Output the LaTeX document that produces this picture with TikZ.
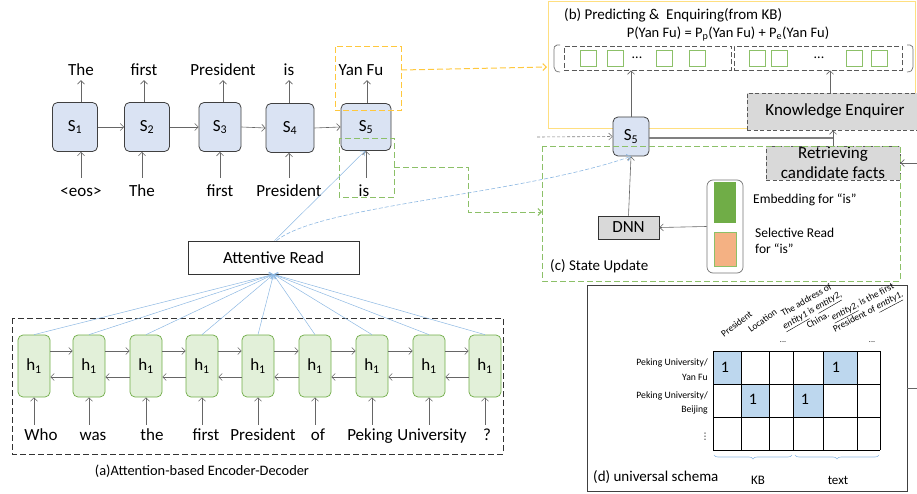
\documentclass[tikz,border=0pt]{standalone}
\usepackage{fontspec}
\setmainfont{Carlito}
\newfontfamily\dejavu{DejaVu Sans}
\usetikzlibrary{arrows.meta,decorations.pathreplacing,calc}
\definecolor{sfill}{HTML}{DAE3F3}
\definecolor{hfill}{HTML}{E2F0D9}
\definecolor{hgreen}{HTML}{70AD47}
\definecolor{lgreen}{HTML}{8CC068}
\definecolor{dyellow}{HTML}{FFC83D}
\definecolor{byellow}{HTML}{FFDF80}
\definecolor{lblue}{HTML}{8DB8E2}
\definecolor{cblue}{HTML}{BDD7EE}
\definecolor{gfill}{HTML}{D9D9D9}
\definecolor{orng}{HTML}{F4B183}
\newcommand{\fsz}[1]{\fontsize{#1}{#1}\selectfont}
\begin{document}
\begin{tikzpicture}[x=1pt,y=-1pt,
  arr/.style={draw=black!60, line width=0.6pt, -{Straight Barb[length=3.5pt,width=7pt]}},
  barr/.style={draw=lblue, line width=0.6pt, -{Straight Barb[length=3.5pt,width=7pt]}},
  snode/.style={draw=black!75, fill=sfill, rounded corners=5pt, line width=0.8pt, minimum height=49pt, font=\fsz{17}},
  hnode/.style={draw=hgreen, fill=hfill, rounded corners=5pt, line width=0.7pt, minimum width=32pt, minimum height=62pt, font=\fsz{17}},
  word/.style={font=\fsz{17}, text height=12pt, text depth=4pt, inner xsep=1pt},
  wtop/.style={word, inner ysep=0pt},
  wbot/.style={word, inner ysep=7pt},
  wenc/.style={word, inner ysep=3pt},
  gbox/.style={draw=black!65, fill=gfill, dash pattern=on 4pt off 2.5pt, line width=0.8pt, font=\fsz{17}},
  ydash/.style={draw=dyellow, line width=1pt, dash pattern=on 6pt off 3pt},
  gdash/.style={draw=lgreen, line width=0.9pt, dash pattern=on 6pt off 3pt},
  sq/.style={draw=lgreen, line width=0.8pt, minimum size=16pt, inner sep=0pt},
  cell/.style={draw=black, line width=0.8pt},
  hdr/.style={font=\fsz{9.5}, inner sep=0pt, align=center},
  rlab/.style={font=\fsz{9.7}, anchor=east, inner sep=0pt}
]
\useasboundingbox (0,0) rectangle (917,494);

% ---------------- decoder ----------------
\node[snode, minimum width=45pt] (s1) at (75,127) {S\textsubscript{1}};
\node[snode, minimum width=45pt] (s2) at (147,127) {S\textsubscript{2}};
\node[snode, minimum width=42pt] (s3) at (220,127) {S\textsubscript{3}};
\node[snode, minimum width=48pt] (s4) at (290,128) {S\textsubscript{4}};
\node[snode, minimum width=50pt, minimum height=47pt] (s5) at (366,127) {S\textsubscript{5}};

\node[wtop] (t1) at (81,72) {The};
\node[wtop] (t2) at (144,72) {first};
\node[wtop] (t3) at (223,72) {President};
\node[wtop] (t4) at (289,72) {is};
\node[wtop] (t5) at (361,72) {Yan Fu};

\node[wbot] (b1) at (81,193) {<eos>};
\node[wbot] (b2) at (142,193) {The};
\node[wbot] (b3) at (220,193) {first};
\node[wbot] (b4) at (289,193) {President};
\node[wbot] (b5) at (364,193) {is};

\draw[arr] (t1.south |- s1.north) -- (t1.south);
\draw[arr] (t2.south |- s2.north) -- (t2.south);
\draw[arr] (t3.south |- s3.north) -- (t3.south);
\draw[arr] (t4.south |- s4.north) -- (t4.south);
\draw[arr] ([xshift=1pt]s5.north) -- ([xshift=1pt]s5.north |- t5.south);

\draw[arr] (b1.north) -- (b1.north |- s1.south);
\draw[arr] (b2.north) -- (b2.north |- s2.south);
\draw[arr] (b3.north) -- (b3.north |- s3.south);
\draw[arr] (b4.north) -- (b4.north |- s4.south);
\draw[arr] ([xshift=2pt]b5.north) -- ([xshift=2pt]b5.north |- s5.south);

\draw[arr] (s1.east) -- (s2.west);
\draw[arr] (s2.east) -- (s3.west);
\draw[arr] (s3.east) -- (s4.west);
\draw[arr] (s4.east) -- (s5.west);

% yellow / green highlight boxes
\draw[ydash] (335,47) rectangle (401,111);
\coordinate (yfrom) at (401,70);
\coordinate (yto) at (547,67);
\draw[ydash, -{Straight Barb[length=3.5pt,width=7pt]}] (yfrom) -- (yto);

\draw[gdash] (339,138) rectangle (394,197);
\coordinate (gfrom) at (394,167);
\coordinate (gto) at (542,212);
\draw[gdash, -{Straight Barb[length=3.5pt,width=7pt]}] (gfrom) -- (468,167) -- (468,212) -- (gto);

% ---------------- (b) predicting ----------------
\draw[draw=byellow, line width=1pt] (548,2) rectangle (915,129);
\node[anchor=west, font=\fsz{15}, inner sep=0pt] (btitle) at (564,15) {(b) Predicting \&\ \ Enquiring(from KB)};
\node[font=\fsz{14.5}, inner sep=0pt] (bform) at (728,34) {P(Yan Fu) = P\textsubscript{p}(Yan Fu) + P\textsubscript{e}(Yan Fu)};

\draw[black!55, line width=0.7pt] (560,45) -- (557,45) .. controls (554,45) and (554,48) .. (554,50) -- (554,67) .. controls (554,70) and (556,72) .. (560,72);
\draw[black!55, line width=0.7pt] (907,45) -- (910,45) .. controls (913,45) and (913,48) .. (913,50) -- (913,67) .. controls (913,70) and (911,72) .. (907,72);
\node[draw=black!65, dash pattern=on 5pt off 2.5pt, line width=0.8pt, minimum width=167pt, minimum height=24pt, inner sep=0pt] (v1) at (647.5,58) {};
\node[draw=black!65, dash pattern=on 5pt off 2.5pt, line width=0.8pt, minimum width=168pt, minimum height=24pt, inner sep=0pt] (v2) at (818,58) {};
\foreach \x in {588,615,664,697,757,779,854,879} \node[sq] at (\x,58) {};
\node[font=\fsz{14}] at (637,58) {...};
\node[font=\fsz{14}] at (819,58) {...};

\node[snode, minimum width=36pt, minimum height=39pt, font=\fsz{17}] (s5b) at (631,136.5) {S\textsubscript{5}};
\draw[arr] (s5b.north) -- (s5b.north |- v1.south);

\node[gbox, minimum width=176pt, minimum height=37pt, inner sep=0pt] (ke) at (835,111.5) {Knowledge Enquirer};
\draw[arr] ([xshift=-5pt]ke.north) -- ([xshift=-5pt]ke.north |- v2.south);

\coordinate (lin) at (537,137);
\draw[draw=black!50, line width=0.6pt, dash pattern=on 3pt off 2pt, -{Straight Barb[length=3.5pt,width=7pt]}] (lin) -- (s5b.west);

\node[gbox, minimum width=134pt, minimum height=34pt, inner sep=0pt, align=center, font=\fontsize{17}{20}\selectfont] (rcf) at (833,163) {Retrieving\\candidate facts};
\draw[arr] (rcf.north) -- (rcf.north |- ke.south);
\draw[draw=black!50, line width=1.3pt] ([yshift=-1.5pt]s5b.east) -- ([yshift=-1.5pt]s5b.east -| rcf.north);
\coordinate (rin) at (917,163);
\draw[arr] (rin) -- (rcf.east);

% ---------------- (c) state update ----------------
\draw[gdash] (542,146) rectangle (900,281);
\node[draw=black!80, fill=gfill, line width=0.8pt, minimum width=61pt, minimum height=23pt, inner sep=0pt, font=\fsz{17}] (dnn) at (628.5,227.5) {DNN};
\draw[arr] (dnn.north) -- (s5b.south);
\node[draw=black!55, line width=0.7pt, rounded corners=6pt, minimum width=36pt, minimum height=93pt, inner sep=0pt] (vec) at (725,226.5) {};
\fill[hgreen] (714,182) rectangle (736,223);
\draw[draw=lgreen, fill=orng, line width=0.8pt] (714,232) rectangle (736,266);
\draw[arr] (vec.west) -- (dnn.east);
\node[anchor=west, font=\fsz{13.5}, inner sep=0pt] (emb) at (753,200) {Embedding for “is”};
\node[anchor=west, font=\fontsize{13.5}{16.5}\selectfont, inner sep=0pt, align=left] (sel) at (755,241) {Selective Read\\for “is”};
\node[anchor=west, font=\fsz{15}, inner sep=0pt] (ctitle) at (550,266) {(c) State Update};

% attention
\node[draw=black!80, line width=0.8pt, minimum width=171pt, minimum height=33pt, inner sep=0pt, font=\fsz{17}] (ar) at (273.5,257.5) {Attentive Read};
\draw[barr, line width=0.5pt] ([xshift=1pt]ar.north) -- ([xshift=-1pt]s5.south);
\draw[barr, dash pattern=on 4pt off 2pt] ([xshift=3pt]ar.north) .. controls (320,205) and (520,195) .. (s5b.south);

% ---------------- encoder ----------------
\draw[draw=black!80, line width=0.8pt, dash pattern=on 6pt off 3pt] (12,318) rectangle (503,454);
\foreach \n/\x in {1/34,2/89,3/146,4/202,5/258,6/315,7/372,8/429,9/485}
  \node[hnode] (h\n) at (\x,366) {h\textsubscript{1}};
\node[wenc] (w1) at (41,436) {Who};
\node[wenc] (w2) at (93,436) {was};
\node[wenc] (w3) at (152,436) {the};
\node[wenc] (w4) at (206,436) {first};
\node[wenc] (w5) at (263,436) {President};
\node[wenc] (w6) at (318,436) {of};
\node[wenc] (w7) at (370,436) {Peking};
\node[wenc] (w8) at (432,436) {University};
\node[wenc] (w9) at (487,436) {?};
\foreach \n in {1,...,9} {
  \draw[arr] (h\n.south |- w\n.north) -- (h\n.south);
  \draw[barr, line width=0.5pt] (h\n.north) -- (ar.south);
}
\foreach \a/\b in {1/2,2/3,3/4,4/5,5/6,6/7,7/8,8/9} {
  \draw[arr] ([yshift=15pt]h\a.east) -- ([yshift=15pt]h\b.west);
  \draw[arr] ([yshift=-11pt]h\b.west) -- ([yshift=-11pt]h\a.east);
}
\node[font=\fsz{14.4}, inner sep=0pt] (acap) at (202,471) {(a)Attention-based Encoder-Decoder};

% ---------------- (d) universal schema ----------------
\draw[draw=black!75, line width=0.8pt] (587,285) rectangle (907,491);
\coordinate (dout) at (917,388);
\draw[draw=black!60, line width=0.6pt] (907,388) -- (dout);
\fill[cblue] (713,351) rectangle (741,384);
\fill[cblue] (823,351) rectangle (857,384);
\fill[cblue] (741,384) rectangle (769,417);
\fill[cblue] (793,384) rectangle (823,417);
\foreach \x in {713,741,769,793,823,857,880} \draw[cell] (\x,351) -- (\x,450);
\foreach \y in {351,384,417,450} \draw[cell] (713,\y) -- (880,\y);
\node[font=\fsz{16}] at (725,367) {1};
\node[font=\fsz{16}] at (836,367) {1};
\node[font=\fsz{16}] at (753,399) {1};
\node[font=\fsz{16}] at (805,399) {1};

\node[rlab] at (708,363) {Peking University/};
\node[rlab] at (708,377) {Yan Fu};
\node[rlab] at (708,396) {Peking University/};
\node[rlab] at (708,410) {Beijing};
\node[font=\dejavu\fsz{9}, inner sep=0pt] at (705,437) {⋮};

\node[hdr, rotate=38, anchor=base west] at (724,338) {President};
\node[hdr, rotate=36, anchor=base west] at (751,333) {Location};
\node[font=\fsz{8}, inner sep=0pt] at (783,342) {...};
\node[hdr, rotate=30, font=\fontsize{9.5}{11.5}\selectfont] at (812,310) {The address of\\\underline{\textit{entity1}} is \underline{\textit{entity2}},\\China.};
\node[hdr, rotate=28, font=\fontsize{9.5}{11.5}\selectfont] at (866,308) {\underline{\textit{entity2}}, is the first\\President of \underline{\textit{entity1}}.};
\node[font=\fsz{8}, inner sep=0pt] at (872,342) {...};

\draw[draw=lblue, line width=0.6pt, decorate, decoration={brace, mirror, amplitude=4pt}] (714,455) -- (792,455);
\draw[draw=lblue, line width=0.6pt, decorate, decoration={brace, mirror, amplitude=4pt}] (795,455) -- (879,455);
\node[font=\fsz{13}] at (758,480) {KB};
\node[font=\fsz{13}] at (838,480) {text};
\node[anchor=west, font=\fsz{15}, inner sep=0pt] at (593,477) {(d) universal schema};
\end{tikzpicture}
\end{document}
